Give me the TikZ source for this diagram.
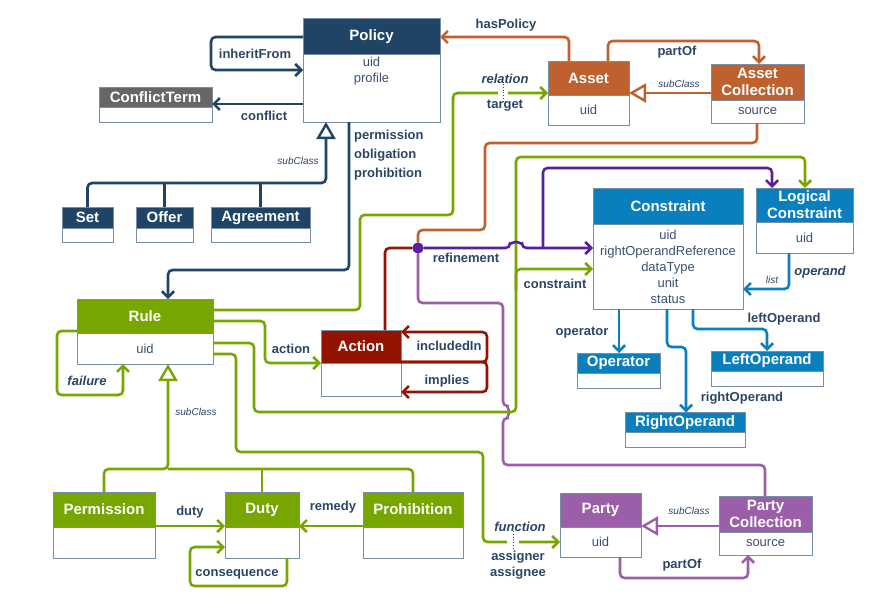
\documentclass[tikz,border=0pt]{standalone}
\usepackage{fontspec}
\setmainfont{Liberation Sans}
\usetikzlibrary{positioning,arrows.meta}
\definecolor{navy}{RGB}{31,68,102}
\definecolor{termgray}{RGB}{102,102,102}
\definecolor{assetorange}{RGB}{190,97,47}
\definecolor{rulegreen}{RGB}{119,166,0}
\definecolor{actionred}{RGB}{148,18,0}
\definecolor{cblue}{RGB}{10,127,190}
\definecolor{partypurple}{RGB}{155,94,168}
\definecolor{refpurple}{RGB}{90,31,156}
\definecolor{textcol}{RGB}{43,69,101}
\definecolor{attrcol}{RGB}{59,82,114}
\definecolor{bordercol}{RGB}{120,142,166}
\begin{document}
\begin{tikzpicture}[x=1pt,y=-1pt,
  head/.style={draw=bordercol, fill=#1, text=white, font=\bfseries\fontsize{15}{17}\selectfont,
    align=center, inner sep=0pt, outer sep=0pt, line width=1pt},
  body/.style={draw=bordercol, fill=white, text=attrcol, font=\fontsize{13}{16}\selectfont,
    align=center, inner sep=0pt, outer sep=0pt, line width=1pt},
  lbl/.style={text=textcol, font=\bfseries\fontsize{13}{15}\selectfont, align=center, inner sep=1pt},
  sub/.style={text=textcol, font=\itshape\fontsize{10}{12}\selectfont, inner sep=1pt},
  wire/.style={draw=#1, line width=2.6pt, rounded corners=4.5pt},
  link/.style={wire=#1, -{Straight Barb[length=6pt,width=12pt]}},
  inherit/.style={wire=#1, -{Triangle[length=17pt,width=19pt,fill=white,line width=2.4pt]}}]
\useasboundingbox (0,0) rectangle (877,610);

% classes
\node[head=navy, minimum width=137pt, minimum height=36pt] (policy) at (371.5,37) {Policy};
\node[body, minimum width=137pt, minimum height=67pt, below=0pt of policy] (policyb) {};
\node[body, draw=none, fill=none, below=2pt of policy.south] (policyattr) {uid\\profile};
\node[head=termgray, minimum width=113pt, minimum height=20pt] (conflict) at (155.5,97) {ConflictTerm};
\node[body, minimum width=113pt, minimum height=15pt, below=0pt of conflict] (conflictb) {};
\node[head=navy, minimum width=51pt, minimum height=21pt] (set) at (87.5,217.5) {Set};
\node[body, minimum width=51pt, minimum height=14pt, below=0pt of set] (setb) {};
\node[head=navy, minimum width=57pt, minimum height=21pt] (offer) at (164.5,217.5) {Offer};
\node[body, minimum width=57pt, minimum height=14pt, below=0pt of offer] (offerb) {};
\node[head=navy, minimum width=99pt, minimum height=21pt] (agreement) at (260.5,217.5) {Agreement};
\node[body, minimum width=99pt, minimum height=14pt, below=0pt of agreement] (agreementb) {};

\node[head=assetorange, minimum width=81pt, minimum height=34pt] (asset) at (588.5,78) {Asset};
\node[body, minimum width=81pt, minimum height=30pt, below=0pt of asset] (assetb) {uid};
\node[head=assetorange, minimum width=93pt, minimum height=36pt] (assetcoll) at (757.5,82) {Asset\\Collection};
\node[body, minimum width=93pt, minimum height=23pt, below=0pt of assetcoll] (assetcollb) {source};

\node[head=cblue, minimum width=150pt, minimum height=36pt] (constraint) at (668,206) {Constraint};
\node[body, minimum width=150pt, minimum height=85pt, below=0pt of constraint] (constraintb)
  {uid\\rightOperandReference\\dataType\\unit\\status};
\node[head=cblue, minimum width=97pt, minimum height=34pt] (logical) at (804.5,205) {Logical\\Constraint};
\node[body, minimum width=97pt, minimum height=31pt, below=0pt of logical] (logicalb) {uid};
\node[head=cblue, minimum width=83pt, minimum height=20pt] (operator) at (618.5,363) {Operator};
\node[body, minimum width=83pt, minimum height=15pt, below=0pt of operator] (operatorb) {};
\node[head=cblue, minimum width=112pt, minimum height=20pt] (leftop) at (767,361) {LeftOperand};
\node[body, minimum width=112pt, minimum height=15pt, below=0pt of leftop] (leftopb) {};
\node[head=cblue, minimum width=120pt, minimum height=20pt] (rightop) at (685,422.5) {RightOperand};
\node[body, minimum width=120pt, minimum height=15pt, below=0pt of rightop] (rightopb) {};

\node[head=rulegreen, minimum width=136pt, minimum height=34pt] (rule) at (145,316) {Rule};
\node[body, minimum width=136pt, minimum height=31pt, below=0pt of rule] (ruleb) {uid};
\node[head=actionred, minimum width=80pt, minimum height=33pt] (action) at (361,346.5) {Action};
\node[body, minimum width=80pt, minimum height=33pt, below=0pt of action] (actionb) {};
\node[head=rulegreen, minimum width=102pt, minimum height=35pt] (permission) at (104,509.5) {Permission};
\node[body, minimum width=102pt, minimum height=31pt, below=0pt of permission] (permissionb) {};
\node[head=rulegreen, minimum width=74pt, minimum height=35pt] (duty) at (262,509.5) {Duty};
\node[body, minimum width=74pt, minimum height=31pt, below=0pt of duty] (dutyb) {};
\node[head=rulegreen, minimum width=100pt, minimum height=35pt] (prohibition) at (413,509.5) {Prohibition};
\node[body, minimum width=100pt, minimum height=31pt, below=0pt of prohibition] (prohibitionb) {};

\node[head=partypurple, minimum width=81pt, minimum height=34pt] (party) at (600.5,510) {Party};
\node[body, minimum width=81pt, minimum height=30pt, below=0pt of party] (partyb) {uid};
\node[head=partypurple, minimum width=93pt, minimum height=36pt] (partycoll) at (765.5,514) {Party\\Collection};
\node[body, minimum width=93pt, minimum height=23pt, below=0pt of partycoll] (partycollb) {source};

\node[circle, fill=refpurple, minimum size=11pt, inner sep=0pt] (refdot) at (418,248) {};
\coordinate (refsplit) at (543,248);
\coordinate (cstsplit) at (516,290);

% policy links
\draw[link=navy] (policy.west) -- (211,37) -- (211,70) -- (policyb.west |- 0,70);
\draw[link=navy] (policyb.west |- 0,104) -- (conflict.east |- 0,104);
\draw[inherit=navy] (set.north) |- (326,183) -- (policyb.south -| 326,0);
\draw[wire=navy] (offer.north) -- (offer.north |- 0,183);
\draw[wire=navy] (agreement.north) -- (agreement.north |- 0,183);
\draw[link=navy] (policyb.south -| 349,0) |- (168,270) -- (rule.north -| 168,0);

% asset links
\draw[link=assetorange] (asset.north -| 569,0) |- (policy.east);
\draw[link=assetorange] (asset.north -| 608,0) |- (759,41) -- (assetcoll.north -| 759,0);
\draw[inherit=assetorange] (assetcoll.west |- 0,93) -- (asset.east |- 0,93);
\draw[wire=assetorange] (assetcollb.south -| 757,0) |- (485,143) |- (418,230) -- (refdot);
\draw[link=rulegreen] (rule.east |- 0,310) -- (360,310) -- (360,215) -- (453,215) -- (453,93) -- (asset.west |- 0,93);
\draw[white, line width=4pt] (498,93) -- (508,93);
\draw[textcol, dotted, line width=0.8pt] (503,84) -- (503,101);

% refinement
\draw[wire=actionred] (action.north -| 385,0) |- (refdot);
\draw[wire=partypurple] (partycoll.north -| 765,0) |- (503,465) -- (503,418)
  arc[start angle=90, end angle=-90, radius=6] -- (503,303) -- (418,303) -- (refdot);
\draw[link=rulegreen] (ruleb.east |- 0,343) -- (254,343) -- (254,412) -- (516,412) -- (516,157)
  -- (805,157) -- (logical.north -| 805,0);
\draw[link=rulegreen] (cstsplit) |- (constraintb.west |- 0,269);
\draw[link=refpurple] (refdot) -- (510,248) arc[start angle=180, end angle=360, radius=6]
  -- (constraintb.west |- 0,248);
\draw[link=refpurple] (refsplit) |- (772,168) -- (logical.north -| 772,0);
\node[circle, fill=refpurple, minimum size=11pt, inner sep=0pt] at (refdot) {};

% rule links
\draw[link=rulegreen] (rule.east |- 0,321) -- (265,321) -- (265,363) -- (action.west |- 0,363);
\draw[link=rulegreen] (ruleb.east |- 0,354) -- (236,354) -- (236,452) -- (483,452) -- (483,542) -- (partyb.west |- 0,542);
\draw[white, line width=4pt] (507,542) -- (519,542);
\draw[textcol, dotted, line width=0.8pt] (513,531) -- (513,549);
\draw[link=rulegreen] (rule.west |- 0,331) -- (57,331) -- (57,395) -- (123,395) -- (ruleb.south -| 123,0);
\draw[inherit=rulegreen] (permission.north) |- (168,469) -- (ruleb.south -| 168,0);
\draw[wire=rulegreen] (duty.north) -- (duty.north |- 0,469);
\draw[wire=rulegreen] (prohibition.north) |- (168,469);
\draw[link=rulegreen] (permission.east |- 0,526) -- (duty.west |- 0,526);
\draw[link=rulegreen] (prohibition.west |- 0,526) -- (duty.east |- 0,526);
\draw[link=rulegreen] (dutyb.south -| 287,0) -- (287,586) -- (190,586) -- (190,547) -- (dutyb.west |- 0,547);

% action links
\draw[link=actionred] (action.east |- 0,362) -- (487,362) -- (487,332) -- (action.east |- 0,332);
\draw[link=actionred] (action.east |- 0,362) -- (487,362) -- (487,392) -- (actionb.east |- 0,392);

% constraint links
\draw[link=cblue] (logicalb.south -| 789,0) -- (789,289) -- (constraintb.east |- 0,289);
\draw[link=cblue] (constraintb.south -| 619,0) -- (operator.north -| 619,0);
\draw[link=cblue] (constraintb.south -| 667,0) -- (667,347) -- (686,347) -- (rightop.north -| 686,0);
\draw[link=cblue] (constraintb.south -| 693,0) -- (693,329) -- (767,329) -- (leftop.north);

% party links
\draw[inherit=partypurple] (partycoll.west |- 0,526) -- (party.east |- 0,526);
\draw[link=partypurple] (partyb.south -| 620,0) -- (620,578) -- (748,578) -- (partycollb.south -| 748,0);

% labels
\node[lbl] (inheritlbl) at (255,54) {inheritFrom};
\node[lbl] (conflictlbl) at (264,116) {conflict};
\node[sub] (policysub) at (298,161) {subClass};
\node[lbl, align=left, anchor=north west, font=\bfseries\fontsize{13}{19}\selectfont] (rulelbl) at (353,129)
  {permission\\obligation\\prohibition};
\node[lbl] (haspolicylbl) at (506,25) {hasPolicy};
\node[lbl] (assetpartlbl) at (677,52) {partOf};
\node[sub] (assetsub) at (679,84) {subClass};
\node[lbl, font=\bfseries\itshape\fontsize{13}{15}\selectfont] (relationlbl) at (505,79) {relation};
\node[lbl] (targetlbl) at (505,106) {target};
\node[lbl] (refinelbl) at (466,258) {refinement};
\node[lbl] (constraintlbl) at (555,284) {constraint};
\node[sub] (listlbl) at (772,280) {list};
\node[lbl, font=\bfseries\itshape\fontsize{13}{15}\selectfont] (operandlbl) at (820,272) {operand};
\node[lbl] (operatorlbl) at (582,333) {operator};
\node[lbl] (leftlbl) at (784,319) {leftOperand};
\node[lbl] (rightlbl) at (742,398) {rightOperand};
\node[lbl] (actionlbl) at (291,349) {action};
\node[lbl] (includedlbl) at (449,346) {includedIn};
\node[lbl] (implieslbl) at (447,381) {implies};
\node[lbl, font=\bfseries\itshape\fontsize{13}{15}\selectfont] (failurelbl) at (87,381) {failure};
\node[sub] (rulesub) at (196,412) {subClass};
\node[lbl] (dutylbl) at (190,512) {duty};
\node[lbl] (remedylbl) at (333,507) {remedy};
\node[lbl] (conseqlbl) at (237,574) {consequence};
\node[lbl, font=\bfseries\itshape\fontsize{13}{15}\selectfont] (functionlbl) at (520,527) {function};
\node[lbl, font=\bfseries\fontsize{13}{16}\selectfont] (assignlbl) at (518,565) {assigner\\assignee};
\node[sub] (partysub) at (689,511) {subClass};
\node[lbl] (partypartlbl) at (682,565) {partOf};
\end{tikzpicture}
\end{document}
